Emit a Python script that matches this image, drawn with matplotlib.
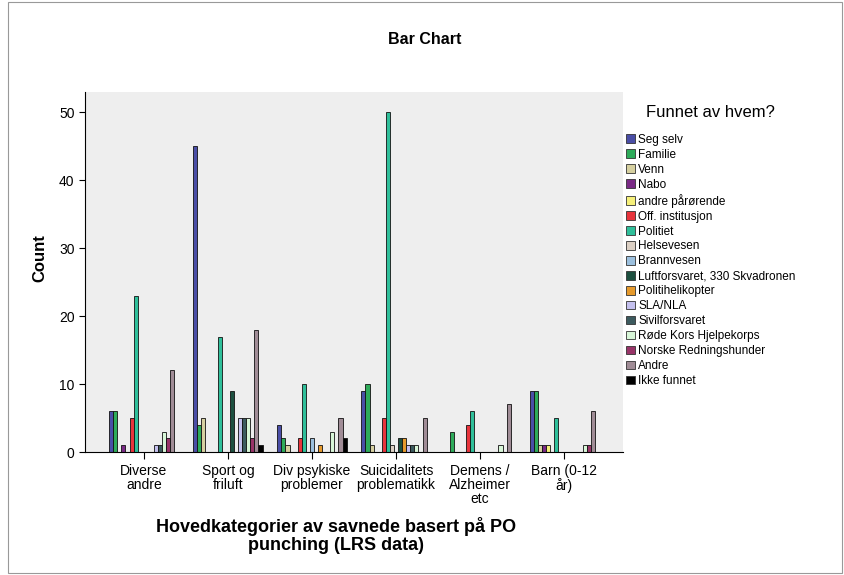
import matplotlib
matplotlib.use("Agg")
import matplotlib.pyplot as plt
from matplotlib.patches import Patch, Rectangle
import numpy as np

plt.rcParams['font.family'] = ['Liberation Sans', 'DejaVu Sans']

# categories on the x axis
categories = ["Diverse\nandre", "Sport og\nfriluft", "Div psykiske\nproblemer",
              "Suicidalitets\nproblematikk", "Demens /\nAlzheimer\netc", "Barn (0-12\når)"]

# series (who found the person) and counts per category
series = ["Seg selv", "Familie", "Venn", "Nabo", "andre pårørende", "Off. institusjon",
          "Politiet", "Helsevesen", "Brannvesen", "Luftforsvaret, 330 Skvadronen",
          "Politihelikopter", "SLA/NLA", "Sivilforsvaret", "Røde Kors Hjelpekorps",
          "Norske Redningshunder", "Andre", "Ikke funnet"]

seg_selv = [6, 45, 4, 9, 0, 9]
familie = [6, 4, 2, 10, 3, 9]
venn = [0, 5, 1, 1, 0, 1]
nabo = [1, 0, 0, 0, 0, 1]
andre_parorende = [0, 0, 0, 0, 0, 1]
off_institusjon = [5, 0, 2, 5, 4, 0]
politiet = [23, 17, 10, 50, 6, 5]
helsevesen = [0, 0, 0, 1, 0, 0]
brannvesen = [0, 0, 2, 0, 0, 0]
luftforsvaret = [0, 9, 0, 2, 0, 0]
politihelikopter = [0, 0, 1, 2, 0, 0]
sla_nla = [1, 5, 0, 1, 0, 0]
sivilforsvaret = [1, 5, 0, 1, 0, 0]
rode_kors = [3, 5, 3, 1, 1, 1]
redningshunder = [2, 2, 0, 0, 0, 1]
andre = [12, 18, 5, 5, 7, 6]
ikke_funnet = [0, 1, 2, 0, 0, 0]

values = [seg_selv, familie, venn, nabo, andre_parorende, off_institusjon, politiet,
          helsevesen, brannvesen, luftforsvaret, politihelikopter, sla_nla,
          sivilforsvaret, rode_kors, redningshunder, andre, ikke_funnet]

colors = ["#4a4ea6", "#2eab5a", "#d6d0a0", "#7a2a86", "#f6f07a", "#e8343c",
          "#2fbf9a", "#dcd0c4", "#9cc0de", "#1d5040", "#e69a2c", "#c4c0ee",
          "#3c5a5e", "#d8f6d8", "#983468", "#a08c96", "#000000"]

fig = plt.figure(figsize=(8.45, 5.75), dpi=100)
ax = fig.add_axes([85 / 845, 123 / 575, 538 / 845, 360 / 575])
ax.set_facecolor("#eeeeee")

n = len(series)
width = 0.0485
x = np.arange(len(categories))
for i, (name, vals, c) in enumerate(zip(series, values, colors)):
    offs = (i - (n - 1) / 2) * width
    ax.bar(x + offs, vals, width=width, color=c, edgecolor="#111111", linewidth=0.6)

ax.set_xlim(-0.7, 5.7)
ax.set_ylim(0, 53)
ax.set_yticks([0, 10, 20, 30, 40, 50])
ax.set_xticks(x)
ax.set_xticklabels(categories, fontsize=10, linespacing=1.0)
ax.tick_params(axis='y', labelsize=10, length=4)
ax.tick_params(axis='x', length=5)
for s in ["top", "right"]:
    ax.spines[s].set_visible(False)
ax.set_ylabel("Count", fontsize=12, fontweight="bold")
ax.yaxis.set_label_coords(-0.07, 0.54)
ax.set_xlabel("Hovedkategorier av savnede basert på PO\npunching (LRS data)",
              fontsize=13, fontweight="bold", linespacing=1.1)
ax.xaxis.set_label_coords(0.467, -0.18)
ax.xaxis.label.set_va("top")

fig.text(425 / 845, 1 - 40 / 575, "Bar Chart", ha="center", va="center",
         fontsize=11.5, fontweight="bold")

handles = [Patch(facecolor=c, edgecolor="#333333", linewidth=0.6) for c in colors]
leg = fig.legend(handles, series, loc="upper left",
                 bbox_to_anchor=(626 / 845, 1 - 105 / 575), frameon=False,
                 fontsize=8.5, title="Funnet av hvem?", title_fontsize=12,
                 handlelength=0.75, handleheight=0.75, handletextpad=0.3,
                 labelspacing=0.25, borderpad=0, borderaxespad=0)
leg._legend_box.sep = 10

# outer frame
fig.patches.append(Rectangle((8 / 845, 2 / 575), 834 / 845, 571 / 575,
                             transform=fig.transFigure, fill=False,
                             edgecolor="#999999", linewidth=0.8))

fig.savefig("out.png", dpi=100)
